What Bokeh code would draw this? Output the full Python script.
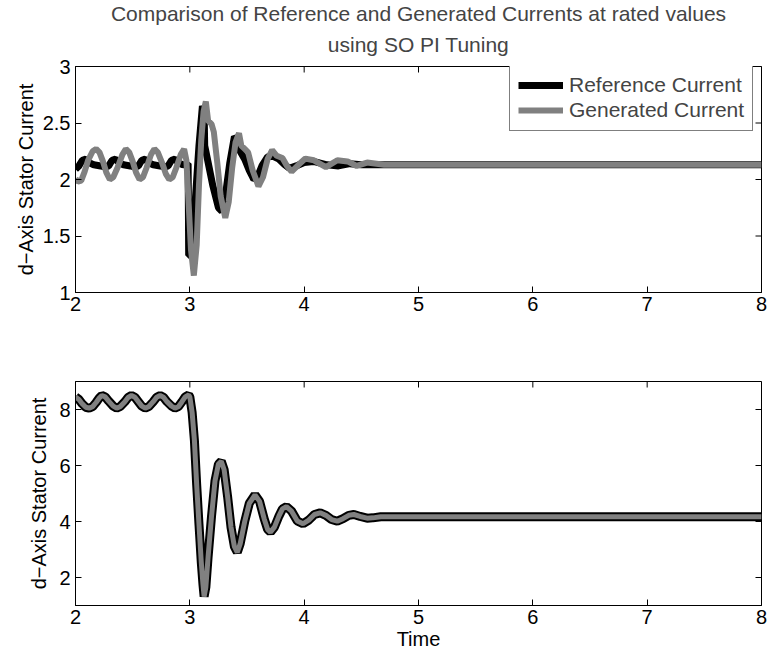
import math
from bokeh.plotting import figure
from bokeh.layouts import column
from bokeh.models import FixedTicker, Title, Legend, LegendItem, Range1d
from bokeh.embed import file_html
from bokeh.resources import INLINE

FONT = "Liberation Sans"
GRAY = "#808080"

# ---------------- data ----------------
x_ticks = [2, 3, 4, 5, 6, 7, 8]
x_tick_labels = ["2", "3", "4", "5", "6", "7", "8"]
top_y_ticks = [1, 1.5, 2, 2.5, 3]
top_y_tick_labels = ["1", "1.5", "2", "2.5", "3"]
bot_y_ticks = [2, 4, 6, 8]
bot_y_tick_labels = ["2", "4", "6", "8"]

# top panel: generated current (grey)
top_gen_t = [2.00, 2.02, 2.05, 2.08, 2.11, 2.15, 2.18, 2.21, 2.24, 2.27, 2.30, 2.33, 2.37, 2.41,
             2.44, 2.47, 2.50, 2.53, 2.56, 2.59, 2.62, 2.66, 2.69, 2.72, 2.76, 2.79, 2.82, 2.85,
             2.88, 2.92, 2.95, 2.97, 2.99, 3.01, 3.035, 3.06, 3.08, 3.10, 3.12, 3.14, 3.16, 3.19,
             3.21, 3.24, 3.27, 3.31, 3.34, 3.37, 3.40, 3.43, 3.45, 3.48, 3.51, 3.55, 3.60, 3.64,
             3.68, 3.72, 3.76, 3.81, 3.85, 3.89, 3.95, 4.01, 4.085, 4.19, 4.29, 4.38, 4.46, 4.55,
             4.70, 5.00, 8.00]
top_gen_i = [2.01, 1.98, 1.99, 2.07, 2.17, 2.25, 2.27, 2.24, 2.16, 2.06, 2.00, 2.02, 2.11, 2.22,
             2.27, 2.24, 2.16, 2.06, 2.00, 2.02, 2.10, 2.22, 2.27, 2.24, 2.14, 2.05, 2.00, 2.02,
             2.10, 2.22, 2.27, 2.17, 1.78, 1.38, 1.15, 1.42, 1.95, 2.35, 2.60, 2.69, 2.52, 2.49,
             2.42, 2.15, 1.85, 1.66, 1.80, 2.10, 2.33, 2.41, 2.30, 2.27, 2.24, 2.08, 1.94, 2.02,
             2.18, 2.26, 2.21, 2.19, 2.12, 2.07, 2.13, 2.185, 2.17, 2.11, 2.17, 2.16, 2.12, 2.15,
             2.13, 2.13, 2.13]

# top panel: reference current (black)
top_ref_t = [2.00, 2.03, 2.06, 2.09, 2.12, 2.16, 2.22, 2.26, 2.29, 2.32, 2.35, 2.38, 2.42, 2.48,
             2.52, 2.55, 2.58, 2.61, 2.64, 2.68, 2.74, 2.78, 2.81, 2.84, 2.87, 2.90, 2.94, 2.985,
             2.99, 3.00, 3.02, 3.05, 3.08, 3.11, 3.125, 3.13, 3.16, 3.20, 3.25, 3.28, 3.31, 3.35,
             3.39, 3.41, 3.44, 3.48, 3.52, 3.56, 3.59, 3.63, 3.68, 3.72, 3.78, 3.83, 3.87, 3.93,
             4.00, 4.08, 4.20, 4.30, 4.40, 4.50, 8.00]
top_ref_i = [2.09, 2.12, 2.17, 2.18, 2.15, 2.13, 2.12, 2.11, 2.12, 2.17, 2.18, 2.15, 2.13, 2.12,
             2.11, 2.12, 2.17, 2.18, 2.15, 2.13, 2.12, 2.11, 2.12, 2.17, 2.18, 2.15, 2.13, 2.14,
             1.33, 1.33, 1.40, 1.85, 2.30, 2.65, 2.60, 2.30, 2.15, 1.95, 1.75, 1.72, 1.85, 2.15,
             2.38, 2.36, 2.25, 2.18, 2.08, 2.00, 2.02, 2.12, 2.20, 2.21, 2.18, 2.13, 2.10, 2.12,
             2.15, 2.16, 2.13, 2.12, 2.14, 2.13, 2.13]

# bottom panel (both currents practically coincide)
bot_t = [2.00, 2.03, 2.06, 2.09, 2.12, 2.15, 2.18, 2.21, 2.23, 2.26, 2.29, 2.33, 2.36, 2.39,
         2.43, 2.46, 2.49, 2.52, 2.55, 2.58, 2.61, 2.64, 2.68, 2.71, 2.74, 2.77, 2.80, 2.84,
         2.87, 2.90, 2.93, 2.96, 2.99, 3.00, 3.02, 3.04, 3.06, 3.08, 3.10, 3.115, 3.125, 3.14,
         3.16, 3.19, 3.22, 3.25, 3.275, 3.30, 3.33, 3.36, 3.39, 3.415, 3.44, 3.48, 3.52, 3.57,
         3.61, 3.65, 3.68, 3.705, 3.74, 3.78, 3.81, 3.845, 3.89, 3.94, 3.99, 4.04, 4.09, 4.14,
         4.19, 4.24, 4.29, 4.34, 4.39, 4.435, 4.49, 4.55, 4.60, 4.67, 4.80, 8.00]
bot_gen_i = [8.45, 8.36, 8.20, 8.08, 8.05, 8.10, 8.25, 8.42, 8.50, 8.45, 8.30, 8.12, 8.05, 8.10,
             8.27, 8.43, 8.50, 8.44, 8.28, 8.12, 8.05, 8.10, 8.28, 8.44, 8.50, 8.44, 8.28, 8.12,
             8.05, 8.10, 8.27, 8.45, 8.52, 8.45, 7.90, 6.90, 5.30, 3.90, 2.55, 1.75, 1.32, 1.65,
             2.75, 4.20, 5.45, 6.05, 6.15, 5.85, 4.90, 3.80, 3.10, 2.90, 3.20, 4.00, 4.65, 4.95,
             4.72, 4.10, 3.72, 3.62, 3.80, 4.20, 4.45, 4.53, 4.37, 4.02, 3.92, 4.05, 4.25, 4.31,
             4.22, 4.07, 4.01, 4.10, 4.22, 4.25, 4.18, 4.12, 4.13, 4.17, 4.17, 4.17]
bot_ref_i = list(bot_gen_i)

title_line1 = "Comparison of Reference and Generated Currents at rated values"
title_line2 = "using SO PI Tuning"
y_label = "d\u2212Axis Stator Current"
x_label = "Time"
legend_labels = ["Reference Current", "Generated Current"]


def style_axis(ax, ticks, labels):
    ax.ticker = FixedTicker(ticks=ticks)
    ax.major_label_overrides = {t: l for t, l in zip(ticks, labels)}
    ax.major_tick_in = 6
    ax.major_tick_out = 0
    ax.minor_tick_in = 0
    ax.minor_tick_out = 0
    ax.axis_line_color = "black"
    ax.major_tick_line_color = "black"
    ax.major_label_text_font = FONT
    ax.major_label_text_color = "black"
    ax.major_label_text_font_size = "20px"
    ax.axis_label_text_font = FONT
    ax.axis_label_text_font_style = "normal"
    ax.axis_label_text_color = "black"
    ax.axis_label_text_font_size = "20px"


def make_fig(ylo, yhi, top_border, bottom_border, frame_h):
    p = figure(output_backend="svg", toolbar_location=None,
               frame_width=686, frame_height=frame_h,
               width=769, height=top_border + bottom_border + frame_h,
               min_border_left=75, min_border_right=8,
               min_border_top=top_border, min_border_bottom=bottom_border,
               x_range=Range1d(2, 8), y_range=Range1d(ylo, yhi))
    p.xgrid.visible = False
    p.ygrid.visible = False
    p.outline_line_color = "black"
    p.outline_line_width = 1
    p.background_fill_color = "white"
    p.border_fill_color = "white"
    return p


def mirror_ticks(p, xt, yt, yhi, xhi):
    # inward ticks on the top and right edges of the box (outer half of each dash is clipped)
    p.scatter(xt, [yhi] * len(xt), marker="dash", size=12, angle=math.pi / 2,
              line_color="black", line_width=1)
    p.scatter([xhi] * len(yt), yt, marker="dash", size=12, angle=0,
              line_color="black", line_width=1)


# ---------------- top figure ----------------
p1 = make_fig(1, 3, 66, 38, 226)
r_ref = p1.line(top_ref_t, top_ref_i, line_color="black", line_width=7)
r_gen = p1.line(top_gen_t, top_gen_i, line_color=GRAY, line_width=6)
mirror_ticks(p1, x_ticks, top_y_ticks, 3, 8)
style_axis(p1.xaxis[0], x_ticks, x_tick_labels)
style_axis(p1.yaxis[0], top_y_ticks, top_y_tick_labels)
p1.yaxis[0].axis_label = y_label
p1.xaxis[0].major_label_standoff = 4
p1.yaxis[0].major_label_standoff = 5
p1.yaxis[0].axis_label_standoff = 3

# outer (first) title line
p1.title.text = title_line1
p1.title.text_font = FONT
p1.title.text_font_size = "21px"
p1.title.text_font_style = "normal"
p1.title.align = "center"
p1.title.standoff = -10
# inner (second) title line, closest to the plot frame
t2 = Title(text=title_line2, text_font=FONT, text_font_size="21px",
           text_font_style="normal", align="center", standoff=22)
p1.add_layout(t2, "above")

legend = Legend(items=[LegendItem(label=legend_labels[0], renderers=[r_ref]),
                       LegendItem(label=legend_labels[1], renderers=[r_gen])],
                location=(434, 161), label_text_font=FONT, label_text_font_size="21px",
                border_line_color="black", border_line_width=1, background_fill_alpha=1,
                padding=8, spacing=1, glyph_width=45, label_standoff=6, margin=0)
p1.add_layout(legend)

# ---------------- bottom figure ----------------
p2 = make_fig(1, 9, 51, 55, 224)
p2.line(bot_t, bot_ref_i, line_color="black", line_width=9)
p2.line(bot_t, bot_gen_i, line_color=GRAY, line_width=5)
mirror_ticks(p2, x_ticks, bot_y_ticks, 9, 8)
style_axis(p2.xaxis[0], x_ticks, x_tick_labels)
style_axis(p2.yaxis[0], bot_y_ticks, bot_y_tick_labels)
p2.xaxis[0].axis_label = x_label
p2.yaxis[0].axis_label = y_label
p2.xaxis[0].major_label_standoff = 4
p2.xaxis[0].axis_label_standoff = 1
p2.yaxis[0].major_label_standoff = 5
p2.yaxis[0].axis_label_standoff = 6

layout = column(p1, p2, spacing=0)
open("out.html", "w").write(file_html(layout, INLINE))
